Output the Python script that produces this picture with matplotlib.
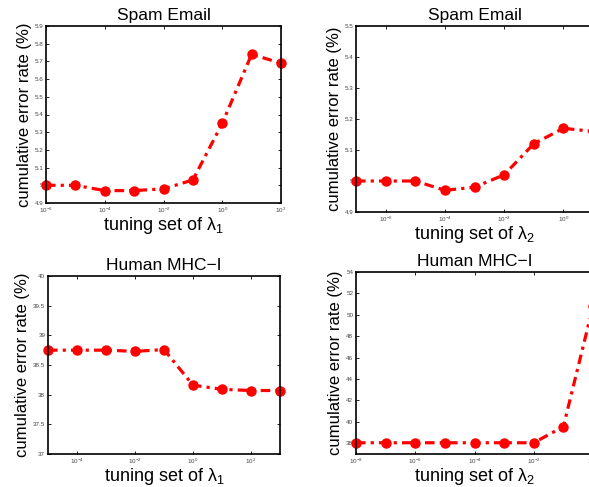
import matplotlib
matplotlib.use('Agg')
import matplotlib.pyplot as plt
from matplotlib.ticker import FixedLocator, NullLocator, FuncFormatter, LogFormatterSciNotation

plt.rcParams['font.family'] = ['Liberation Sans', 'DejaVu Sans']
plt.rcParams['mathtext.fontset'] = 'custom'
plt.rcParams['mathtext.rm'] = 'Liberation Sans'
plt.rcParams['mathtext.it'] = 'Liberation Sans'

# data
lam_tl = [1e-6, 1e-5, 1e-4, 1e-3, 1e-2, 1e-1, 1e0, 1e1, 1e2]
err_tl = [5.00, 5.00, 4.97, 4.97, 4.98, 5.03, 5.35, 5.74, 5.69]

lam_tr = [1e-7, 1e-6, 1e-5, 1e-4, 1e-3, 1e-2, 1e-1, 1e0, 1e1]
err_tr = [5.00, 5.00, 5.00, 4.97, 4.98, 5.02, 5.12, 5.17, 5.16]

lam_bl = [1e-5, 1e-4, 1e-3, 1e-2, 1e-1, 1e0, 1e1, 1e2, 1e3]
err_bl = [38.75, 38.75, 38.75, 38.73, 38.76, 38.16, 38.09, 38.07, 38.07]

lam_br = [1e-8, 1e-7, 1e-6, 1e-5, 1e-4, 1e-3, 1e-2, 1e-1, 1e0]
err_br = [38.05, 38.05, 38.05, 38.05, 38.05, 38.05, 38.05, 39.55, 50.8]

titles = ['Spam Email', 'Spam Email', 'Human MHC\u2212I', 'Human MHC\u2212I']
xlabels = [r'tuning set of $\lambda_1$', r'tuning set of $\lambda_2$',
           r'tuning set of $\lambda_1$', r'tuning set of $\lambda_2$']

W, H = 589, 487
fig = plt.figure(figsize=(W / 100, H / 100), dpi=100)


def box(l, t, r, b):
    # pixel box -> figure fraction
    return [l / W, 1 - b / H, (r - l) / W, (b - t) / H]


panels = [
    (box(46, 26, 281, 203), lam_tl, err_tl, (1e-6, 1e2), (4.9, 5.9),
     [1e-6, 1e-4, 1e-2, 1e0, 1e2], [4.9 + 0.1 * i for i in range(11)]),
    (box(356, 26, 593, 212), lam_tr, err_tr, (1e-7, 1e1), (4.9, 5.5),
     [1e-6, 1e-4, 1e-2, 1e0], [4.9 + 0.1 * i for i in range(7)]),
    (box(48, 276, 280, 454), lam_bl, err_bl, (1e-5, 1e3), (37, 40),
     [1e-4, 1e-2, 1e0, 1e2], [37 + 0.5 * i for i in range(7)]),
    (box(356, 272, 593, 454), lam_br, err_br, (1e-8, 1e0), (37, 54),
     [1e-8, 1e-6, 1e-4, 1e-2, 1e0], list(range(38, 55, 2))),
]

for i, (pos, x, y, xl, yl, xt, yt) in enumerate(panels):
    ax = fig.add_axes(pos)
    ax.plot(x, y, color='red', lw=2.3, dashes=(3, 1.6, 1, 1.6),
            marker='o', ms=6.5, markeredgecolor='red', clip_on=False)
    ax.set_xscale('log')
    ax.set_xlim(xl)
    ax.set_ylim(yl)
    ax.xaxis.set_major_locator(FixedLocator(xt))
    ax.xaxis.set_minor_locator(NullLocator())
    ax.xaxis.set_major_formatter(LogFormatterSciNotation())
    ax.yaxis.set_major_locator(FixedLocator(yt))
    ax.yaxis.set_major_formatter(FuncFormatter(lambda v, p: '%g' % round(v, 2)))
    ax.tick_params(direction='in', top=True, right=True, length=2, width=0.6,
                   labelsize=4.5, labelcolor='#444444', pad=2)
    for s in ax.spines.values():
        s.set_linewidth(1.2)
    ax.set_title(titles[i], fontsize=12.5, pad=4)
    ax.set_xlabel(xlabels[i], fontsize=13, labelpad=0)
    ax.set_ylabel('cumulative error rate (%)', fontsize=12, labelpad=2)

fig.savefig('out.png', dpi=100)
